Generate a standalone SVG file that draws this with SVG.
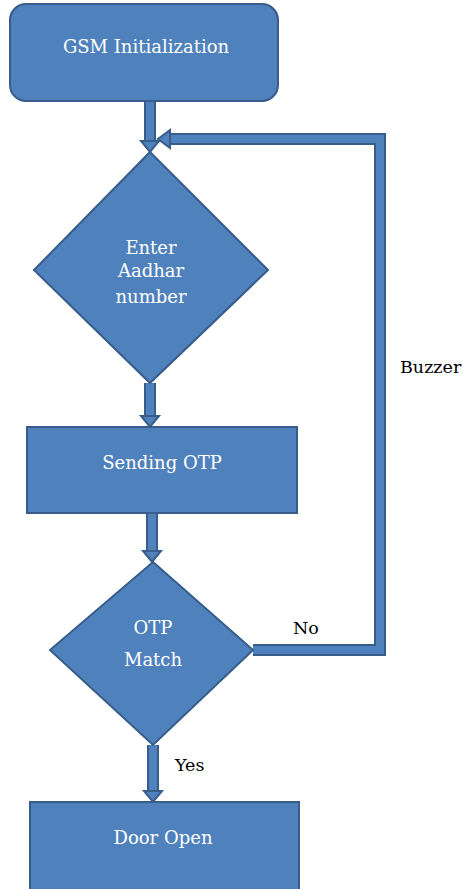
<svg xmlns="http://www.w3.org/2000/svg" width="463" height="889" viewBox="0 0 463 889">
  <style>
    .shape { fill: #4f81bd; stroke: #385d8a; stroke-width: 2; }
    .label { font-family: 'DejaVu Serif', 'Liberation Serif', serif; font-size: 18px; fill: #ffffff; text-anchor: middle; }
    .note { font-family: 'DejaVu Serif', 'Liberation Serif', serif; font-size: 17.5px; fill: #000000; }
    .edge-out { fill: none; stroke: #385d8a; stroke-width: 12; stroke-linejoin: miter; }
    .edge-in { fill: none; stroke: #4f81bd; stroke-width: 8; stroke-linejoin: miter; }
    .head { fill: #4f81bd; stroke: #385d8a; stroke-width: 2; stroke-linejoin: miter; }
  </style>
  <rect width="463" height="889" fill="#ffffff"/>

  <!-- connectors -->
  <g id="connectors">
    <!-- GSM -> Enter Aadhar -->
    <line class="edge-out" x1="150" y1="101" x2="150" y2="142"/>
    <line class="edge-in" x1="150" y1="101" x2="150" y2="143"/>
    <polygon class="head" points="141,141 159,141 150,152"/>
    <!-- Enter Aadhar -> Sending OTP -->
    <line class="edge-out" x1="150" y1="383" x2="150" y2="417"/>
    <line class="edge-in" x1="150" y1="383" x2="150" y2="418"/>
    <polygon class="head" points="141,416 159,416 150,427"/>
    <!-- Sending OTP -> OTP Match -->
    <line class="edge-out" x1="152" y1="513" x2="152" y2="552"/>
    <line class="edge-in" x1="152" y1="513" x2="152" y2="553"/>
    <polygon class="head" points="143,551 161,551 152,562"/>
    <!-- OTP Match -> Door Open -->
    <line class="edge-out" x1="153" y1="745" x2="153" y2="792"/>
    <line class="edge-in" x1="153" y1="745" x2="153" y2="793"/>
    <polygon class="head" points="144,791 162,791 153,802"/>
    <!-- No branch back to Enter Aadhar -->
    <path class="edge-out" d="M253,650 H380 V139 H170"/>
    <path class="edge-in" d="M253,650 H380 V139 H169"/>
    <polygon class="head" points="170,130 170,148 158,139"/>
  </g>

  <g id="gsm-init">
    <rect class="shape" x="10" y="4" width="268" height="97" rx="16" ry="16"/>
    <text class="label" x="146" y="53">GSM Initialization</text>
  </g>

  <g id="enter-aadhar">
    <polygon class="shape" points="150,152 268,270 150,383 34,270"/>
    <text class="label" x="151" y="254">Enter</text>
    <text class="label" x="151" y="277">Aadhar</text>
    <text class="label" x="151" y="303">number</text>
  </g>

  <g id="sending-otp">
    <rect class="shape" x="27" y="427" width="270" height="86"/>
    <text class="label" x="162" y="469">Sending OTP</text>
  </g>

  <g id="otp-match">
    <polygon class="shape" points="153,562 253,650 153,745 50,650"/>
    <text class="label" x="153" y="634">OTP</text>
    <text class="label" x="153" y="666">Match</text>
  </g>

  <g id="door-open">
    <rect class="shape" x="30" y="802" width="269" height="90"/>
    <text class="label" x="163" y="844">Door Open</text>
  </g>

  <g id="edge-labels">
    <text class="note" x="400" y="373">Buzzer</text>
    <text class="note" x="293" y="634">No</text>
    <text class="note" x="175" y="771">Yes</text>
  </g>
</svg>
